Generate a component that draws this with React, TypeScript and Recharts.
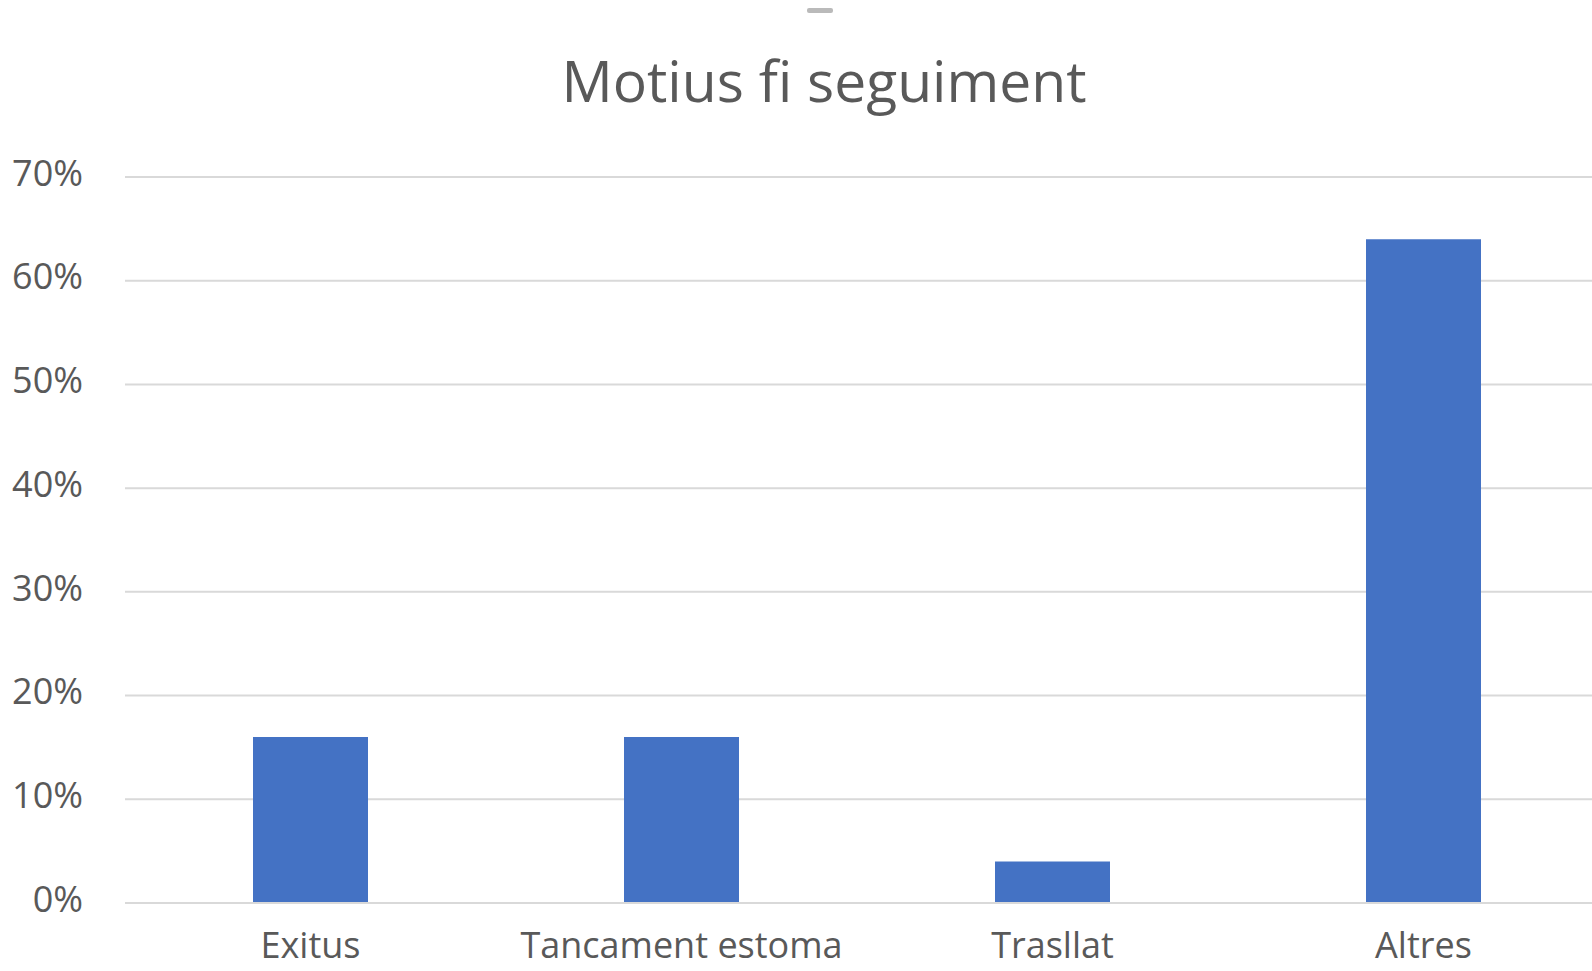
import { BarChart, Bar, XAxis, YAxis, CartesianGrid } from "recharts";

const categories = ["Exitus", "Tancament estoma", "Trasllat", "Altres"];
const shares = [0.16, 0.16, 0.04, 0.64];
const yTicks = [0, 0.1, 0.2, 0.3, 0.4, 0.5, 0.6, 0.7];

const data = categories.map((name, i) => ({ name, value: shares[i] }));

const FONT = "'Open Sans', 'Noto Sans', sans-serif";
const TEXT = "#595959";

export default function App() {
  return (
    <div style={{ position: "relative", width: 1592, height: 971, overflow: "hidden", background: "#fff", fontFamily: FONT }}>
      <style>{"html,body{margin:0;padding:0;overflow:hidden}"}</style>
      <div style={{ position: "absolute", left: 807, top: 8, width: 26, height: 5, background: "#8c8c8c", opacity: 0.6, borderRadius: 2 }} />
      <div style={{ position: "absolute", left: 0, top: 40, width: 1648, textAlign: "center", fontSize: 57, color: TEXT, lineHeight: "80px" }}>
        Motius fi seguiment
      </div>
      <BarChart width={1611} height={971} data={data} margin={{ top: 177, right: 2, left: 0, bottom: 0 }} barSize={115}>
        <CartesianGrid vertical={false} stroke="#d9d9d9" strokeWidth={2} />
        <XAxis
          dataKey="name"
          axisLine={{ stroke: "#d9d9d9", strokeWidth: 2 }}
          tickLine={false}
          tickSize={0}
          tickMargin={29}
          height={68}
          interval={0}
          tick={{ fill: TEXT, fontSize: 36, fontFamily: FONT }}
        />
        <YAxis
          width={125}
          domain={[0, 0.7]}
          ticks={yTicks}
          axisLine={false}
          tickLine={false}
          tickSize={0}
          tickMargin={42}
          tickFormatter={(v: number) => `${Math.round(v * 100)}%`}
          tick={{ fill: TEXT, fontSize: 36, fontFamily: FONT, dy: -4 }}
        />
        <Bar dataKey="value" fill="#4472c4" isAnimationActive={false} />
      </BarChart>
    </div>
  );
}
